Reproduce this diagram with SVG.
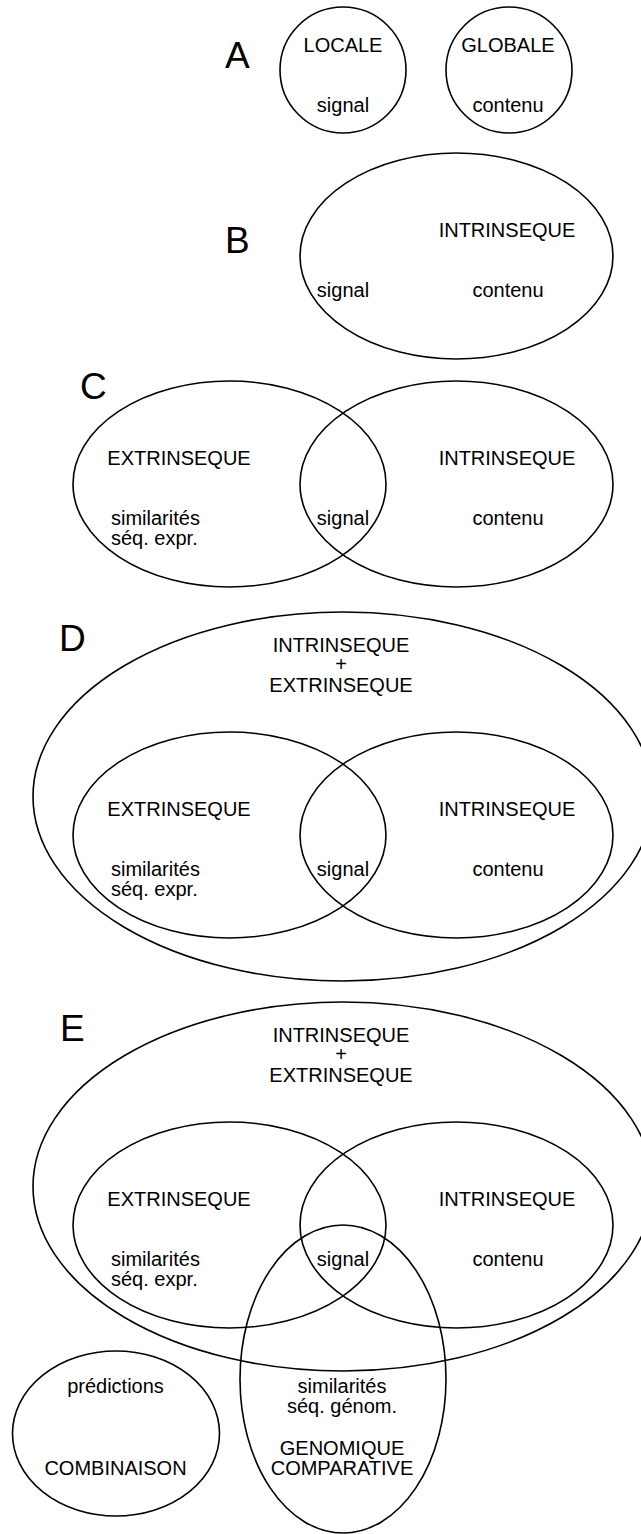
<svg xmlns="http://www.w3.org/2000/svg" width="641" height="1534" viewBox="0 0 641 1534">
  <style>
    .shape { fill: none; stroke: #000; stroke-width: 1.6; }
    text { font-family: "Liberation Sans", Arial, Helvetica, sans-serif; fill: #000; }
    .lbl { font-size: 20px; }
    .mid { text-anchor: middle; }
    .panel { font-size: 37px; }
  </style>
  <rect width="641" height="1534" fill="#fff"/>

  <!-- Panel A: local vs global -->
  <g id="panel-a">
    <text class="panel" x="225" y="68">A</text>
    <g id="a-locale">
      <circle class="shape" cx="343" cy="70" r="63"/>
      <text class="lbl mid" x="343" y="52">LOCALE</text>
      <text class="lbl mid" x="343" y="112">signal</text>
    </g>
    <g id="a-globale">
      <circle class="shape" cx="509" cy="70" r="63"/>
      <text class="lbl mid" x="508" y="52">GLOBALE</text>
      <text class="lbl mid" x="508" y="112">contenu</text>
    </g>
  </g>

  <!-- Panel B: intrinsic methods -->
  <g id="panel-b">
    <text class="panel" x="225" y="253">B</text>
    <g id="b-intrinseque">
      <ellipse class="shape" cx="456.5" cy="256" rx="156.5" ry="103"/>
      <text class="lbl mid" x="507" y="237">INTRINSEQUE</text>
      <text class="lbl mid" x="343" y="297">signal</text>
      <text class="lbl mid" x="508" y="297">contenu</text>
    </g>
  </g>

  <!-- Panel C: extrinsic + intrinsic -->
  <g id="panel-c">
    <text class="panel" x="80" y="399">C</text>
    <g id="c-extrinseque">
      <ellipse class="shape" cx="229.5" cy="484" rx="156.5" ry="103"/>
      <text class="lbl mid" x="179" y="465">EXTRINSEQUE</text>
      <text class="lbl" x="111" y="525">similarités</text>
      <text class="lbl" x="111" y="545">séq. expr.</text>
    </g>
    <g id="c-intrinseque">
      <ellipse class="shape" cx="456.5" cy="484" rx="156.5" ry="103"/>
      <text class="lbl mid" x="507" y="465">INTRINSEQUE</text>
      <text class="lbl mid" x="508" y="525">contenu</text>
    </g>
    <text class="lbl mid" x="343" y="525">signal</text>
  </g>

  <!-- Panel D: combined intrinsic + extrinsic -->
  <g id="panel-d">
    <text class="panel" x="59" y="651">D</text>
    <g id="d-mixte">
      <ellipse class="shape" cx="343" cy="796.5" rx="310" ry="184.5"/>
      <text class="lbl mid" x="341" y="652">INTRINSEQUE</text>
      <text class="lbl mid" x="341" y="671">+</text>
      <text class="lbl mid" x="341" y="692">EXTRINSEQUE</text>
    </g>
    <g id="d-extrinseque">
      <ellipse class="shape" cx="229.5" cy="835" rx="156.5" ry="103"/>
      <text class="lbl mid" x="179" y="816">EXTRINSEQUE</text>
      <text class="lbl" x="111" y="876">similarités</text>
      <text class="lbl" x="111" y="896">séq. expr.</text>
    </g>
    <g id="d-intrinseque">
      <ellipse class="shape" cx="456.5" cy="835" rx="156.5" ry="103"/>
      <text class="lbl mid" x="507" y="816">INTRINSEQUE</text>
      <text class="lbl mid" x="508" y="876">contenu</text>
    </g>
    <text class="lbl mid" x="343" y="876">signal</text>
  </g>

  <!-- Panel E: adds comparative genomics and combination -->
  <g id="panel-e">
    <text class="panel" x="60" y="1041">E</text>
    <g id="e-mixte">
      <ellipse class="shape" cx="343" cy="1186.5" rx="310" ry="184.5"/>
      <text class="lbl mid" x="341" y="1042">INTRINSEQUE</text>
      <text class="lbl mid" x="341" y="1061">+</text>
      <text class="lbl mid" x="341" y="1082">EXTRINSEQUE</text>
    </g>
    <g id="e-extrinseque">
      <ellipse class="shape" cx="229.5" cy="1225" rx="156.5" ry="103"/>
      <text class="lbl mid" x="179" y="1206">EXTRINSEQUE</text>
      <text class="lbl" x="111" y="1266">similarités</text>
      <text class="lbl" x="111" y="1286">séq. expr.</text>
    </g>
    <g id="e-intrinseque">
      <ellipse class="shape" cx="456.5" cy="1225" rx="156.5" ry="103"/>
      <text class="lbl mid" x="507" y="1206">INTRINSEQUE</text>
      <text class="lbl mid" x="508" y="1266">contenu</text>
    </g>
    <text class="lbl mid" x="343" y="1266">signal</text>
    <g id="e-genomique-comparative">
      <ellipse class="shape" cx="343" cy="1379" rx="103" ry="154"/>
      <text class="lbl mid" x="342" y="1393">similarités</text>
      <text class="lbl mid" x="342" y="1413">séq. génom.</text>
      <text class="lbl mid" x="342" y="1455">GENOMIQUE</text>
      <text class="lbl mid" x="342" y="1475">COMPARATIVE</text>
    </g>
    <g id="e-combinaison">
      <ellipse class="shape" cx="116" cy="1433.5" rx="103.5" ry="82.5"/>
      <text class="lbl mid" x="115.5" y="1393">prédictions</text>
      <text class="lbl mid" x="115.5" y="1475">COMBINAISON</text>
    </g>
  </g>
</svg>
